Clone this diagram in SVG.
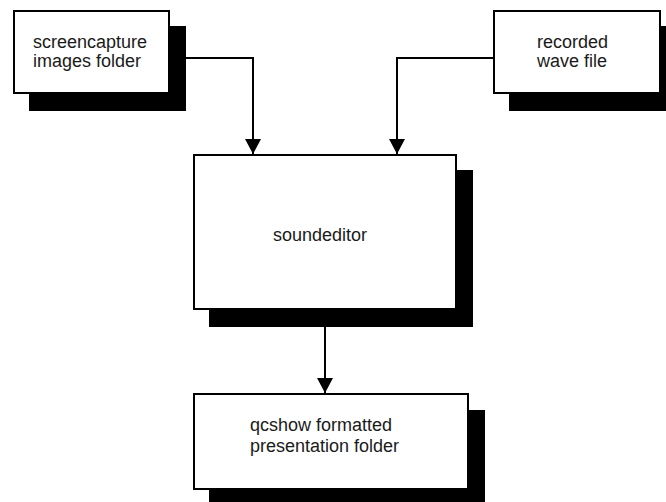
<svg xmlns="http://www.w3.org/2000/svg" width="666" height="502" viewBox="0 0 666 502">
<style>
.box{fill:#fff;stroke:#000;stroke-width:2}
.shadow{fill:#000}
.lbl{font-family:"Liberation Sans",Arial,sans-serif;font-size:18px;fill:#1a1a1a}
.conn{fill:none;stroke:#000;stroke-width:2}
</style>
<defs>
<marker id="arrow" markerUnits="userSpaceOnUse" markerWidth="16" markerHeight="16" refX="15" refY="8" orient="auto">
<path d="M0,0 L15,8 L0,16 z" fill="#000"/>
</marker>
</defs>
<rect width="666" height="502" fill="#fff"/>
<g id="connectors">
<path class="conn" d="M169,58 H253 V154" marker-end="url(#arrow)"/>
<path class="conn" d="M494,58 H397 V154" marker-end="url(#arrow)"/>
<path class="conn" d="M325,309 V393" marker-end="url(#arrow)"/>
</g>
<g id="screencapture">
<rect class="shadow" x="29" y="26" width="157" height="85"/>
<rect class="box" x="14" y="11" width="155" height="82"/>
<text class="lbl" x="33" y="47.5">screencapture</text>
<text class="lbl" x="33" y="66.5">images folder</text>
</g>
<g id="recorded">
<rect class="shadow" x="509" y="26" width="167" height="85"/>
<rect class="box" x="494" y="11" width="166" height="82"/>
<text class="lbl" x="537" y="47.5">recorded</text>
<text class="lbl" x="537" y="66.5">wave file</text>
</g>
<g id="soundeditor">
<rect class="shadow" x="209" y="170" width="264" height="157"/>
<rect class="box" x="194" y="155" width="262" height="154"/>
<text class="lbl" x="273" y="240.5">soundeditor</text>
</g>
<g id="qcshow">
<rect class="shadow" x="209" y="410" width="276" height="95"/>
<rect class="box" x="194" y="394" width="274" height="95"/>
<text class="lbl" x="250" y="431">qcshow formatted</text>
<text class="lbl" x="250" y="452">presentation folder</text>
</g>
</svg>
